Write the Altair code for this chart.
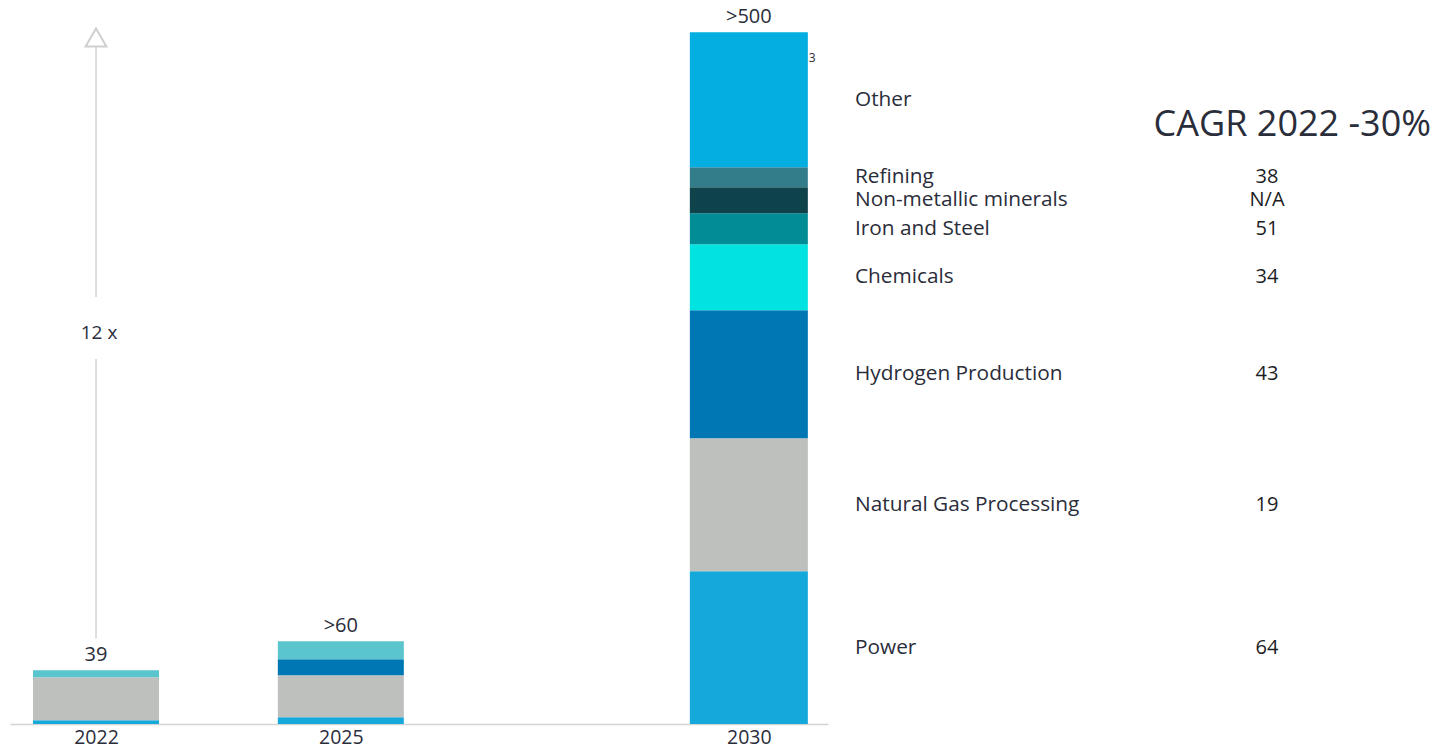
import altair as alt
import pandas as pd

# ---------------- data ----------------
years = [2022, 2025, 2030]
segments = ["Power", "Natural Gas Processing", "Hydrogen Production", "Chemicals",
            "Iron and Steel", "Non-metallic minerals", "Refining", "Other"]
power = [2.7, 4.9, 110.9]
natgas = [31.2, 30.5, 96.6]
hydrogen = [0.0, 11.6, 93.0]
chemicals = [0.0, 0.0, 47.9]
iron_steel = [0.0, 0.0, 22.5]
non_metallic = [0.0, 0.0, 18.9]
refining = [0.0, 0.0, 14.5]
other = [5.1, 13.1, 98.0]
cagr_values = ["64", "19", "43", "34", "51", "N/A", "38", ""]
total_labels = ["39", ">60", ">500"]
arrow_segments_lo = [62.0, 310.0]
arrow_segments_hi = [265.0, 494.0]
arrow_head = [498.5]
multiplier_label = ["12 x"]
multiplier_y = [283.7]
cagr_title = "CAGR 2022 -30%"

series = [power, natgas, hydrogen, chemicals, iron_steel, non_metallic, refining, other]

rows = []
for yi, yr in enumerate(years):
    for si, seg in enumerate(segments):
        v = series[si][yi]
        if v <= 0:
            continue
        key = seg if (yr == 2030 or seg != "Other") else "Other (2022-2025)"
        rows.append({"year": yr, "segment": seg, "key": key, "value": v, "idx": si})
bars = pd.DataFrame(rows)

labels_df = pd.DataFrame({"segment": segments, "cagr": cagr_values, "idx": list(range(len(segments))),
                          "value": [s[2] for s in series], "year": [2030] * len(segments)})

totals_df = pd.DataFrame({"year": years, "label": total_labels,
                          "total": [sum(s[i] for s in series) for i in range(len(years))]})

arrow_df = pd.DataFrame({"year": [2022] * 2, "y": arrow_segments_lo, "y2": arrow_segments_hi})
head_df = pd.DataFrame({"year": [2022], "y": arrow_head})
mult_df = pd.DataFrame({"year": [2022], "y": multiplier_y, "label": multiplier_label})

# ---------------- styles ----------------
FONT = "Open Sans"
TXT = "#2a2d3a"
color_domain = segments + ["Other (2022-2025)"]
color_range = ["#14A9DA", "#BEC0BD", "#0077B5", "#00E3E0", "#028D96", "#0E434B", "#337D8B",
               "#04AEE0", "#5AC5CD"]

xscale = alt.Scale(domain=[2020.946, 2030.97], nice=False, zero=False, padding=0)
yscale = alt.Scale(domain=[0, 512.7], nice=False, padding=0)
xaxis = alt.Axis(values=years, format="d", ticks=False, grid=False, title=None,
                 domainColor="#d4d4d4", domainWidth=1.5, labelFontSize=19.5, labelColor=TXT,
                 labelFont=FONT, labelPadding=4)

X = alt.X("year:Q", scale=xscale, axis=xaxis)

def Y(field):
    return alt.Y(field, scale=yscale, axis=None)

def bar_layer(sel, width):
    return alt.Chart(bars).transform_filter(sel).mark_bar(width=width).encode(
        x=X,
        y=alt.Y("value:Q", stack="zero", scale=yscale, axis=None),
        color=alt.Color("key:N", scale=alt.Scale(domain=color_domain, range=color_range), legend=None),
        order=alt.Order("idx:Q", sort="ascending"),
    )

bars_early = bar_layer("datum.year < 2030", 126)
bars_late = bar_layer("datum.year == 2030", 118)

totals = alt.Chart(totals_df).mark_text(font=FONT, fontSize=20, color=TXT, dy=-15,
                                        baseline="middle").encode(
    x=X, y=Y("total:Q"), text="label:N")

stacked_labels = alt.Chart(labels_df).transform_stack(
    stack="value", groupby=["year"], as_=["y0", "y1"],
    sort=[alt.SortField("idx", order="ascending")]
).transform_calculate(mid="(datum.y0 + datum.y1) / 2")

seg_labels = stacked_labels.mark_text(font=FONT, fontSize=20.8, color=TXT, align="left",
                                      baseline="middle").encode(
    x=alt.value(845), y=Y("mid:Q"), text="segment:N")

cagr_labels = stacked_labels.mark_text(font=FONT, fontSize=20, color="#1c1c24", align="center",
                                       baseline="middle").encode(
    x=alt.value(1257), y=Y("mid:Q"), text="cagr:N")

footnote = stacked_labels.transform_filter("datum.segment == 'Other'").mark_text(
    font=FONT, fontSize=12, color=TXT, align="left", baseline="middle", dx=60, dy=26).encode(
    x=X, y=Y("y1:Q"), text=alt.value("3"))

title_txt = alt.Chart(pd.DataFrame({"t": [cagr_title]})).mark_text(
    font=FONT, fontSize=36, color=TXT, align="right", baseline="middle").encode(
    x=alt.value(1421), y=alt.value(107), text="t:N")

arrow = alt.Chart(arrow_df).mark_rule(color="#d4d4d4", strokeWidth=1.5).encode(
    x=X, y=Y("y:Q"), y2="y2:Q")

head = alt.Chart(head_df).mark_point(shape="triangle-up", size=430, filled=True, fill="white",
                                     stroke="#cfcfcf", strokeWidth=2, opacity=1).encode(
    x=X, y=Y("y:Q"))

mult = alt.Chart(mult_df).mark_text(font=FONT, fontSize=19, color=TXT, dx=3,
                                    baseline="middle").encode(
    x=X, y=Y("y:Q"), text="label:N")

chart = alt.layer(
    bars_early, bars_late, arrow, head, mult, totals, seg_labels, cagr_labels, footnote, title_txt
).properties(
    width=818, height=706,
    autosize=alt.AutoSizeParams(type="none"),
    padding={"left": 2, "top": 10, "right": 605, "bottom": 24},
    background="white",
).configure_view(strokeWidth=0, stroke=None)

chart.save("out.html", embed_options={"renderer": "svg", "actions": False})
